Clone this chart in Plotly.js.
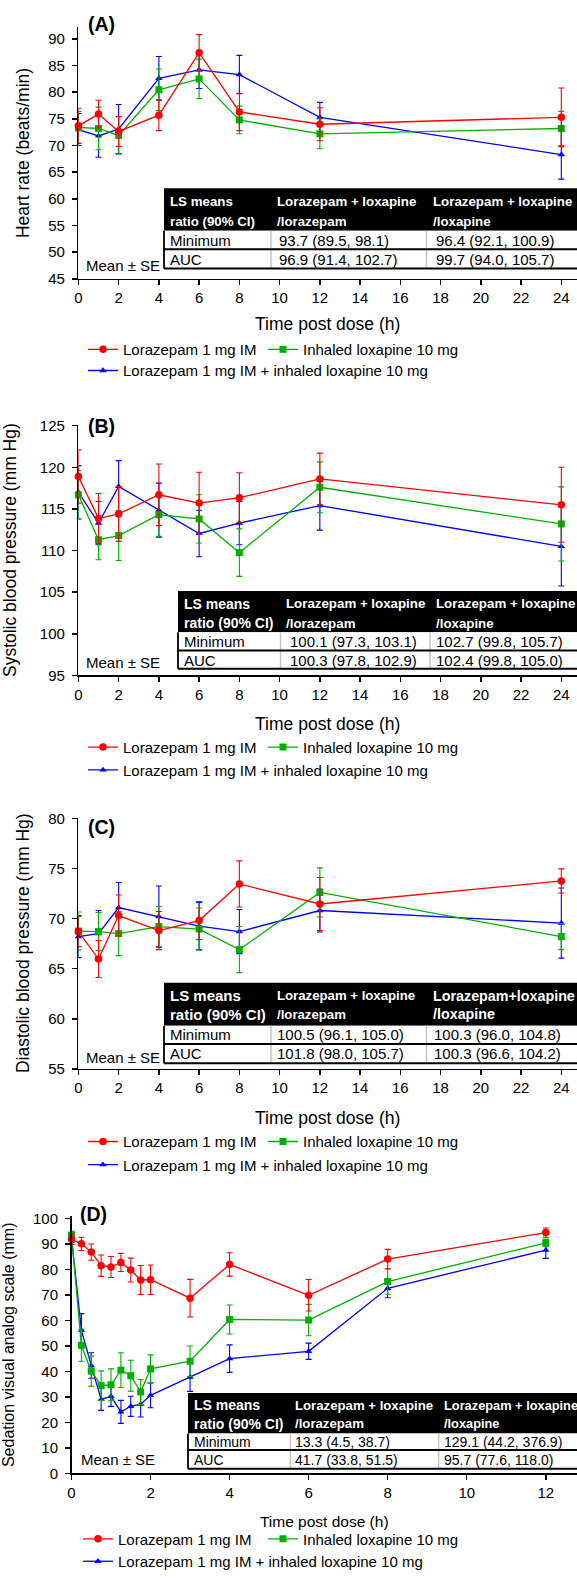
<!DOCTYPE html>
<html><head><meta charset="utf-8">
<script src="https://cdn.plot.ly/plotly-3.0.1.min.js"></script>
<style>html,body{margin:0;padding:0;background:#fff;width:577px;height:1578px;overflow:hidden}#chart{display:block;width:577px;height:1578px;overflow:hidden}</style>
</head><body><div id="chart"></div>
<script>
// ---------------- DATA ----------------
const timesABC = [0, 1, 2, 4, 6, 8, 12, 24];
const timesD = [0, 0.25, 0.5, 0.75, 1, 1.25, 1.5, 1.75, 2, 3, 4, 6, 8, 12];

const seriesNames = ['Lorazepam 1 mg IM', 'Inhaled loxapine 10 mg', 'Lorazepam 1 mg IM + inhaled loxapine 10 mg'];

// (A) Heart rate
const hrLor = [73.7, 75.9, 72.65, 75.7, 87.4, 76.3, 74.0, 75.3];
const hrLorSE = [3.3, 2.6, 2.8, 2.9, 3.4, 3.5, 3.1, 5.5];
const hrLox = [73.4, 73.2, 71.9, 80.45, 82.5, 74.8, 72.2, 73.2];
const hrLoxSE = [3.0, 4.0, 3.5, 3.9, 3.7, 2.6, 2.8, 3.2];
const hrComb = [73.0, 71.8, 73.1, 82.6, 84.2, 83.3, 75.3, 68.3];
const hrCombSE = [3.0, 4.0, 4.6, 4.1, 3.5, 3.6, 2.8, 4.6];

// (B) Systolic blood pressure
const sbpLor = [118.9, 113.85, 114.4, 116.7, 115.7, 116.35, 118.6, 115.5];
const sbpLorSE = [3.2, 3.0, 3.3, 3.7, 3.7, 3.0, 3.1, 4.5];
const sbpLox = [116.7, 111.3, 111.8, 114.3, 113.8, 109.75, 117.6, 113.2];
const sbpLoxSE = [2.9, 2.4, 3.0, 2.6, 2.9, 2.85, 3.05, 4.45];
const sbpComb = [117.0, 113.3, 117.7, 114.85, 112.05, 113.3, 115.4, 110.5];
const sbpCombSE = [3.2, 2.6, 3.1, 3.25, 2.8, 2.6, 2.95, 4.75];

// (C) Diastolic blood pressure
const dbpLor = [68.7, 65.96, 70.3, 68.8, 69.8, 73.45, 71.45, 73.75];
const dbpLorSE = [1.5, 1.85, 2.05, 1.9, 1.9, 2.3, 2.65, 1.2];
const dbpLox = [68.75, 68.7, 68.5, 69.2, 68.95, 66.9, 72.6, 68.2];
const dbpLoxSE = [1.9, 1.9, 2.2, 2.0, 2.1, 2.3, 2.45, 1.3];
const dbpComb = [68.2, 68.5, 71.1, 70.2, 69.25, 68.7, 70.8, 69.55];
const dbpCombSE = [2.1, 2.3, 2.5, 3.05, 2.35, 2.2, 2.15, 3.5];

// (D) Sedation VAS
const vasLor = [91.9, 90.1, 86.85, 81.5, 81.0, 82.8, 79.8, 75.9, 76.0, 68.75, 82.0, 69.9, 84.1, 94.5];
const vasLorSE = [2.0, 2.6, 3.2, 4.2, 4.1, 3.55, 4.7, 5.7, 5.8, 7.4, 4.6, 6.2, 3.8, 1.8];
const vasLox = [93.5, 50.25, 40.1, 34.4, 34.75, 40.5, 38.3, 31.9, 41.0, 44.0, 60.4, 60.15, 75.25, 90.5];
const vasLoxSE = [1.5, 6.25, 5.9, 5.8, 6.25, 6.8, 6.05, 4.9, 5.5, 6.0, 5.7, 6.15, 4.95, 1.5];
const vasComb = [92.6, 56.2, 42.3, 29.0, 30.2, 24.1, 26.3, 27.1, 30.6, 37.75, 45.0, 47.9, 72.65, 87.6];
const vasCombSE = [2.0, 6.5, 5.0, 4.3, 3.95, 4.5, 3.95, 5.0, 4.85, 5.6, 5.4, 3.2, 3.7, 3.2];

// Tables
const rowLabels = ['Minimum', 'AUC'];
const headerStd = [['LS means', 'ratio (90% CI)'], ['Lorazepam + loxapine', '/lorazepam'], ['Lorazepam + loxapine', '/loxapine']];
const headerC = [['LS means', 'ratio (90% CI)'], ['Lorazepam + loxapine', '/lorazepam'], ['Lorazepam+loxapine', '/loxapine']];
const tblA = [['93.7 (89.5, 98.1)', '96.4 (92.1, 100.9)'], ['96.9 (91.4, 102.7)', '99.7 (94.0, 105.7)']];
const tblB = [['100.1 (97.3, 103.1)', '102.7 (99.8, 105.7)'], ['100.3 (97.8, 102.9)', '102.4 (99.8, 105.0)']];
const tblC = [['100.5 (96.1, 105.0)', '100.3 (96.0, 104.8)'], ['101.8 (98.0, 105.7)', '100.3 (96.6, 104.2)']];
const tblD = [['13.3 (4.5, 38.7)', '129.1 (44.2, 376.9)'], ['41.7 (33.8, 51.5)', '95.7 (77.6, 118.0)']];

const panelLabels = ['(A)', '(B)', '(C)', '(D)'];
const yTitles = ['Heart rate (beats/min)', 'Systolic blood pressure (mm Hg)', 'Diastolic blood pressure (mm Hg)', 'Sedation visual analog scale (mm)'];
const xTitle = 'Time post dose (h)';
const noteText = 'Mean ± SE';

// ---------------- LAYOUT HELPERS ----------------
const W = 577, H = 1578;
const X = p => p / W, Y = p => 1 - p / H;
const FONT = 'Liberation Sans, Arial, sans-serif';
const RED = '#ff0000', GREEN = '#00b000', BLUE = '#0000ff';
const styles = [
  {color: RED, symbol: 'circle', size: 7.5, rank: 1},
  {color: GREEN, symbol: 'square', size: 7, rank: 2},
  {color: BLUE, symbol: 'triangle-up', size: 6.5, rank: 3}
];

const panels = [
  {t: timesABC, ys: [hrLor, hrLox, hrComb], es: [hrLorSE, hrLoxSE, hrCombSE],
   xl: 78.4, yTop: 27.3, yBot: 280.5, xr: [0, 24.78], yr: [45, 92.2], ytick0: 45, dx: 2, dy: 5,
   tbl: tblA, hdr: headerStd, leg: [351, 372.3], legX: 83, legW: 135, xsOff: 12.5, ysOff: 14, yfs: 17.5, xfs: 17.5,
   T: {left: 164, top: 189.3, hb: 232, rl: 250.7, bot: 270, c2: 271, c3: 426.5, hy: [202.7, 222.7], dyy: [241.5, 261],
       hx: [168, 275, 431], dxx: [168, 276.5, 434], hfs: [13.3, 13.3, 13.3], dfs: 15},
   lab: [86, 24], note: [84, 266.7]},
  {t: timesABC, ys: [sbpLor, sbpLox, sbpComb], es: [sbpLorSE, sbpLoxSE, sbpCombSE],
   xl: 78.4, yTop: 427.3, yBot: 679.3, xr: [0, 24.78], yr: [95, 125.1], ytick0: 95, dx: 2, dy: 5,
   tbl: tblB, hdr: headerStd, leg: [751, 774], legX: 83, legW: 135, xsOff: 15.5, ysOff: 18, yfs: 17.5, xfs: 17.5,
   T: {left: 178, top: 594.3, hb: 636, rl: 654.3, bot: 672.7, c2: 280.5, c3: 430, hy: [607.3, 626.7], dyy: [645.5, 664],
       hx: [182, 284, 434], dxx: [182, 288, 434], hfs: [14, 13.3, 13.3], dfs: 15},
   lab: [86, 428.7], note: [84, 666.7]},
  {t: timesABC, ys: [dbpLor, dbpLox, dbpComb], es: [dbpLorSE, dbpLoxSE, dbpCombSE],
   xl: 78.4, yTop: 822.3, yBot: 1075, xr: [0, 24.78], yr: [55, 80.07], ytick0: 55, dx: 2, dy: 5,
   tbl: tblC, hdr: headerC, leg: [1147.7, 1171], legX: 83, legW: 135, xsOff: 16.5, ysOff: 14, yfs: 17.5, xfs: 17.5,
   T: {left: 164, top: 988.3, hb: 1031.7, rl: 1050, bot: 1069.3, c2: 271, c3: 426.5, hy: [1001.3, 1020], dyy: [1040.5, 1059.5],
       hx: [168, 275, 431], dxx: [168, 275, 432], hfs: [15, 13.2, 14.3], dfs: 15},
   lab: [86, 832], note: [84, 1063.3]},
  {t: timesD, ys: [vasLor, vasLox, vasComb], es: [vasLorSE, vasLoxSE, vasCombSE],
   xl: 71.5, yTop: 1223.3, yBot: 1481.7, xr: [0, 12.79], yr: [0, 100.9], ytick0: 0, dx: 2, dy: 10,
   tbl: tblD, hdr: headerStd, leg: [1547.3, 1570], legX: 78, legW: 140, xsOff: 16, ysOff: 15, yfs: 16, xfs: 15.5,
   T: {left: 188, top: 1401, hb: 1441.7, rl: 1458.3, bot: 1477.3, c2: 290.4, c3: 438.6, hy: [1413.3, 1431.7], dyy: [1450.3, 1468],
       hx: [192, 293.4, 441.5], dxx: [192, 293.4, 442], hfs: [14, 13.2, 12.8], dfs: 14},
   lab: [78.4, 1220.5], note: [79, 1468.3]}
];

const traces = [];
const layout = {
  width: W, height: H, margin: {l: 0, r: 0, t: 0, b: 0},
  paper_bgcolor: '#fff', plot_bgcolor: 'rgba(0,0,0,0)',
  font: {family: FONT, size: 15, color: '#000'},
  shapes: [], annotations: [], showlegend: true
};

panels.forEach((p, i) => {
  const n = i + 1;
  const xa = n === 1 ? 'x' : 'x' + n, ya = n === 1 ? 'y' : 'y' + n;
  const xk = n === 1 ? 'xaxis' : 'xaxis' + n, yk = n === 1 ? 'yaxis' : 'yaxis' + n;
  const legA = 2 * i + 1 === 1 ? 'legend' : 'legend' + (2 * i + 1);
  const legB = 'legend' + (2 * i + 2);
  // draw order: combination (blue) first, then loxapine (green), then lorazepam (red) on top
  [2, 1, 0].forEach(k => {
    const s = styles[k];
    const tr = {
      type: 'scatter', mode: 'lines+markers', x: p.t, y: p.ys[k], name: seriesNames[k],
      xaxis: xa, yaxis: ya, legend: k === 2 ? legB : legA, legendrank: s.rank,
      line: {color: s.color, width: 1.3},
      marker: {color: s.color, symbol: s.symbol, size: s.size, line: {width: 0}},
      error_y: {type: 'data', array: p.es[k], visible: true, color: s.color, thickness: 1.1, width: 3},
      cliponaxis: false, hoverinfo: 'x+y'
    };
    if (k === 0) tr.legendwidth = p.legW;
    if (k === 1) tr.legendwidth = 170;
    traces.push(tr);
  });
  const axCommon = {
    showline: true, linecolor: '#000', linewidth: 1.5, ticks: 'outside', ticklen: 5, tickwidth: 1.5,
    tickcolor: '#000', showgrid: false, zeroline: false, tickfont: {family: FONT, size: 15, color: '#000'},
    fixedrange: true
  };
  layout[xk] = Object.assign({}, axCommon, {
    domain: [X(p.xl), 1], range: p.xr, anchor: ya, tick0: 0, dtick: p.dx,
    title: {text: xTitle, font: {family: FONT, size: p.xfs, color: '#000'}, standoff: p.xsOff}
  });
  layout[yk] = Object.assign({}, axCommon, {
    domain: [Y(p.yBot), Y(p.yTop)], range: p.yr, anchor: xa, tick0: p.ytick0, dtick: p.dy,
    ticklabelstandoff: 4,
    title: {text: yTitles[i], font: {family: FONT, size: p.yfs, color: '#000'}, standoff: p.ysOff}
  });
  // legends: row 1 (red, green) and row 2 (blue)
  const legBase = {orientation: 'h', xref: 'paper', yref: 'paper', x: X(p.legX), xanchor: 'left', yanchor: 'top',
    font: {family: FONT, size: 15, color: '#000'}, bgcolor: 'rgba(0,0,0,0)', borderwidth: 0, traceorder: 'normal'};
  layout[legA] = Object.assign({}, legBase, {y: Y(p.leg[0] - 16)});
  layout[legB] = Object.assign({}, legBase, {y: Y(p.leg[1] - 16)});

  // panel label & note
  layout.annotations.push({xref: 'paper', yref: 'paper', x: X(p.lab[0]), y: Y(p.lab[1]), xanchor: 'left', yanchor: 'middle',
    text: '<b>' + panelLabels[i] + '</b>', showarrow: false, font: {family: FONT, size: 19.5, color: '#000'}});
  layout.annotations.push({xref: 'paper', yref: 'paper', x: X(p.note[0]), y: Y(p.note[1]), xanchor: 'left', yanchor: 'middle',
    text: noteText, showarrow: false, font: {family: FONT, size: 15, color: '#000'}});

  // table
  const T = p.T, R = W;
  const sh = layout.shapes;
  sh.push({type: 'rect', xref: 'paper', yref: 'paper', x0: X(T.left), x1: X(R), y0: Y(T.hb), y1: Y(T.top), fillcolor: '#000', line: {width: 0}});
  sh.push({type: 'rect', xref: 'paper', yref: 'paper', x0: X(T.left), x1: X(R), y0: Y(T.bot), y1: Y(T.hb), fillcolor: '#fff', line: {width: 0}});
  [T.c2, T.c3].forEach(c => sh.push({type: 'line', xref: 'paper', yref: 'paper', x0: X(c), x1: X(c), y0: Y(T.hb), y1: Y(T.bot), line: {color: '#c4c4c4', width: 1.5}}));
  sh.push({type: 'line', xref: 'paper', yref: 'paper', x0: X(T.left), x1: X(T.left), y0: Y(T.hb), y1: Y(T.bot), line: {color: '#000', width: 1.8}});
  sh.push({type: 'line', xref: 'paper', yref: 'paper', x0: X(T.left), x1: X(R), y0: Y(T.rl), y1: Y(T.rl), line: {color: '#000', width: 2}});
  sh.push({type: 'line', xref: 'paper', yref: 'paper', x0: X(T.left), x1: X(R), y0: Y(T.bot), y1: Y(T.bot), line: {color: '#000', width: 2}});
  p.hdr.forEach((col, c) => col.forEach((txt, r) => layout.annotations.push({
    xref: 'paper', yref: 'paper', x: X(T.hx[c]), y: Y(T.hy[r]), xanchor: 'left', yanchor: 'middle', showarrow: false,
    text: '<b>' + txt + '</b>', font: {family: FONT, size: T.hfs[c], color: '#fff'}})));
  rowLabels.forEach((lab, r) => {
    layout.annotations.push({xref: 'paper', yref: 'paper', x: X(T.dxx[0]), y: Y(T.dyy[r]), xanchor: 'left', yanchor: 'middle',
      showarrow: false, text: lab, font: {family: FONT, size: T.dfs, color: '#000'}});
    p.tbl[r].forEach((v, c) => layout.annotations.push({xref: 'paper', yref: 'paper', x: X(T.dxx[c + 1]), y: Y(T.dyy[r]),
      xanchor: 'left', yanchor: 'middle', showarrow: false, text: v, font: {family: FONT, size: T.dfs, color: '#000'}}));
  });
});

Plotly.newPlot('chart', traces, layout, {staticPlot: true, displayModeBar: false});
</script>
</body></html>
